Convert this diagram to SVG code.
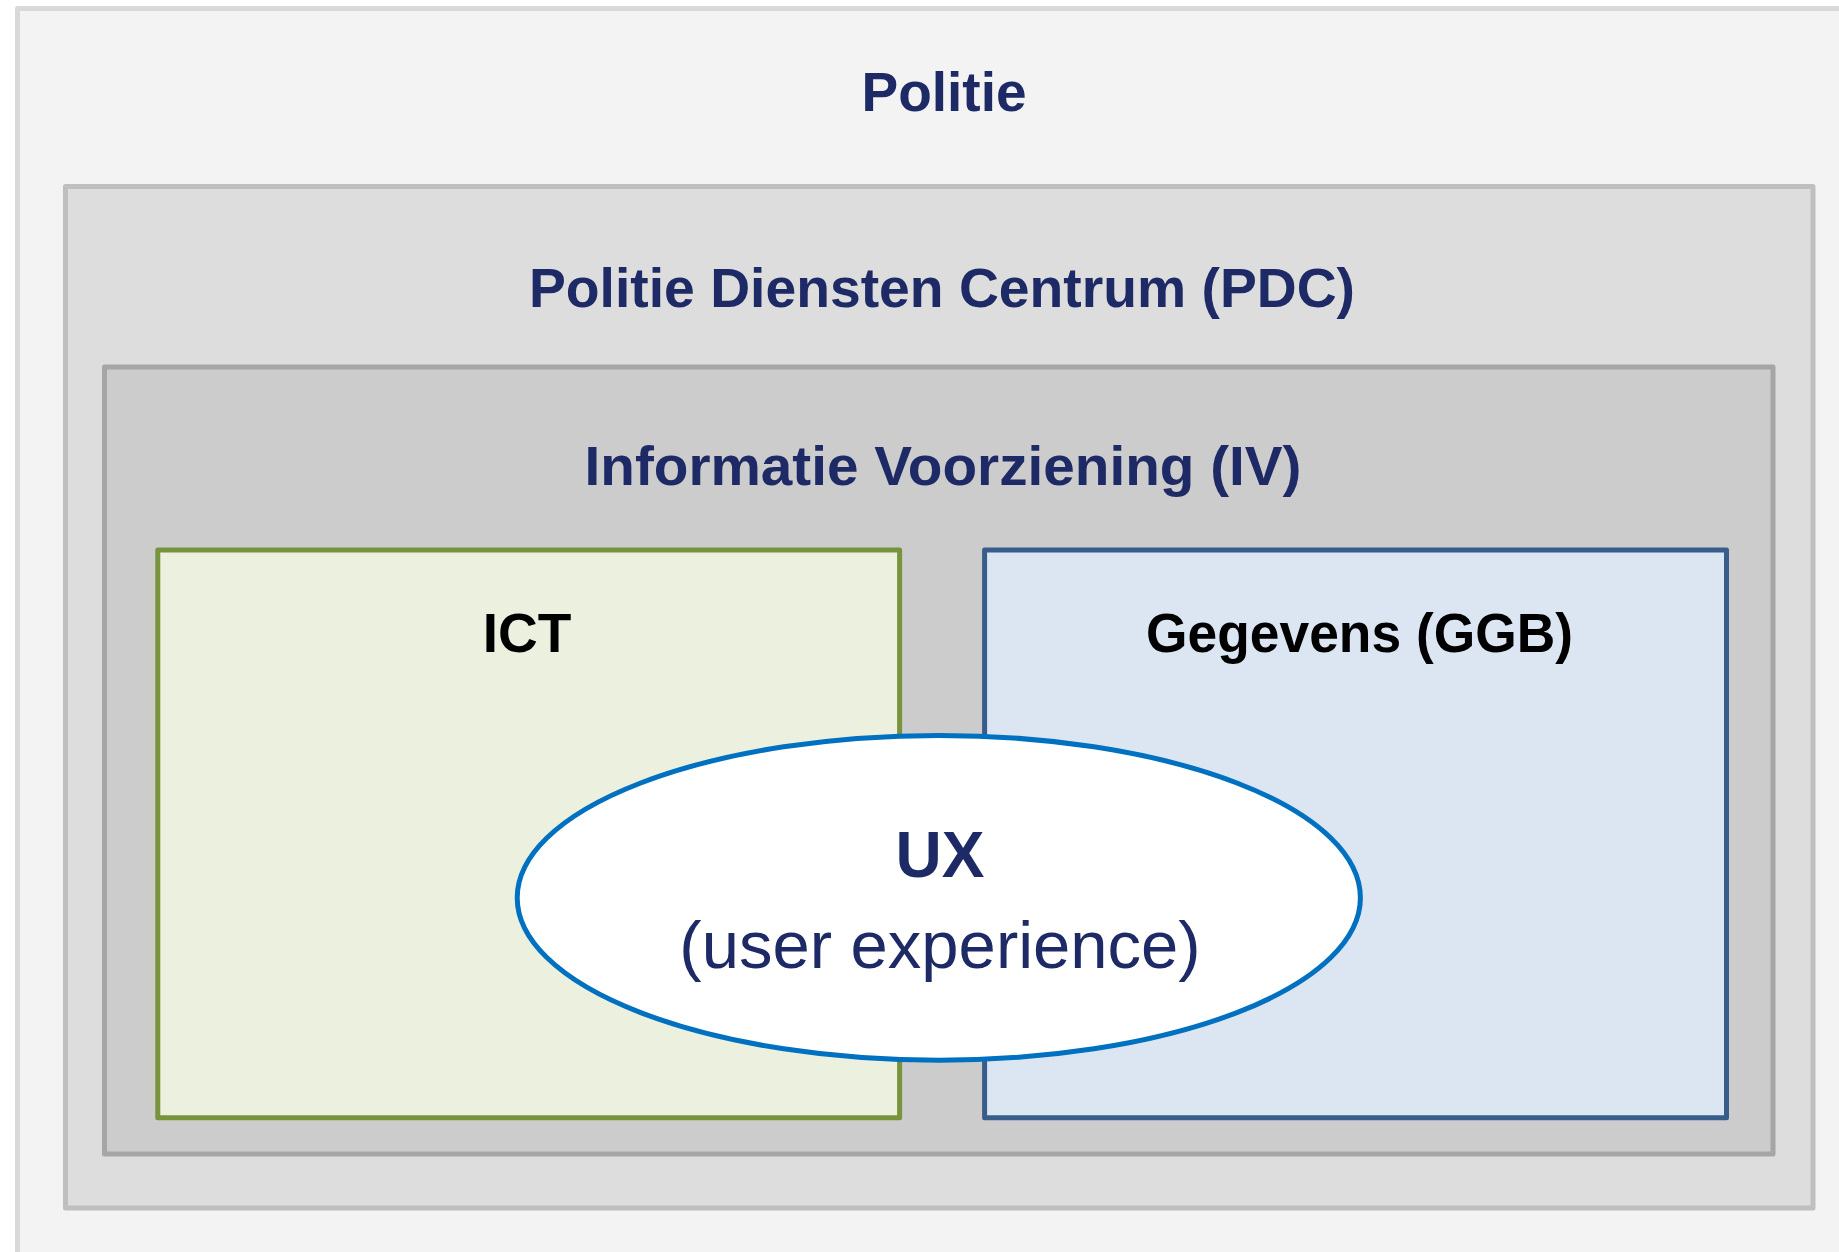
<svg xmlns="http://www.w3.org/2000/svg" width="1839" height="1252" viewBox="0 0 1839 1252">
  <style>
    .box { stroke-width: 5; stroke-linejoin: round; }
    .title { font-family: "Liberation Sans", Arial, sans-serif; font-weight: bold; font-size: 55px; fill: #1d2a65; text-anchor: middle; }
    .sub { font-family: "Liberation Sans", Arial, sans-serif; font-weight: bold; font-size: 55px; fill: #000000; text-anchor: middle; }
  </style>
  <rect width="1839" height="1252" fill="#ffffff"/>
  <g id="politie">
    <rect class="box" x="17.5" y="8.5" width="1900" height="1300" fill="#f3f3f3" stroke="#d9d9d9"/>
    <text class="title" x="944" y="111">Politie</text>
  </g>
  <g id="pdc">
    <rect class="box" x="65.5" y="186.5" width="1747.5" height="1021.5" fill="#dddddd" stroke="#bfbfbf"/>
    <text class="title" x="942" y="307" textLength="826" lengthAdjust="spacingAndGlyphs">Politie Diensten Centrum (PDC)</text>
  </g>
  <g id="iv">
    <rect class="box" x="104.5" y="367" width="1668.5" height="787" fill="#cccccc" stroke="#a6a6a6"/>
    <text class="title" x="943" y="485" textLength="717" lengthAdjust="spacingAndGlyphs">Informatie Voorziening (IV)</text>
  </g>
  <g id="ict">
    <rect class="box" x="157.8" y="550" width="741.8" height="567.8" fill="#ebf1de" stroke="#77933c"/>
    <text class="sub" x="527" y="652">ICT</text>
  </g>
  <g id="ggb">
    <rect class="box" x="984.6" y="550" width="741.9" height="567.8" fill="#dce6f2" stroke="#385d8a"/>
    <text class="sub" x="1359.5" y="652" textLength="427" lengthAdjust="spacingAndGlyphs">Gegevens (GGB)</text>
  </g>
  <g id="ux">
    <ellipse cx="938.8" cy="897.8" rx="421.6" ry="162.4" fill="#ffffff" stroke="#0070c0" stroke-width="5"/>
    <text x="940" y="877" font-family="'Liberation Sans', Arial, sans-serif" font-weight="bold" font-size="64" fill="#1d2a65" text-anchor="middle">UX</text>
    <text x="940" y="968" font-family="'Liberation Sans', Arial, sans-serif" font-size="67" fill="#1d2a65" text-anchor="middle">(user experience)</text>
  </g>
  <g id="connectors"/>
</svg>
